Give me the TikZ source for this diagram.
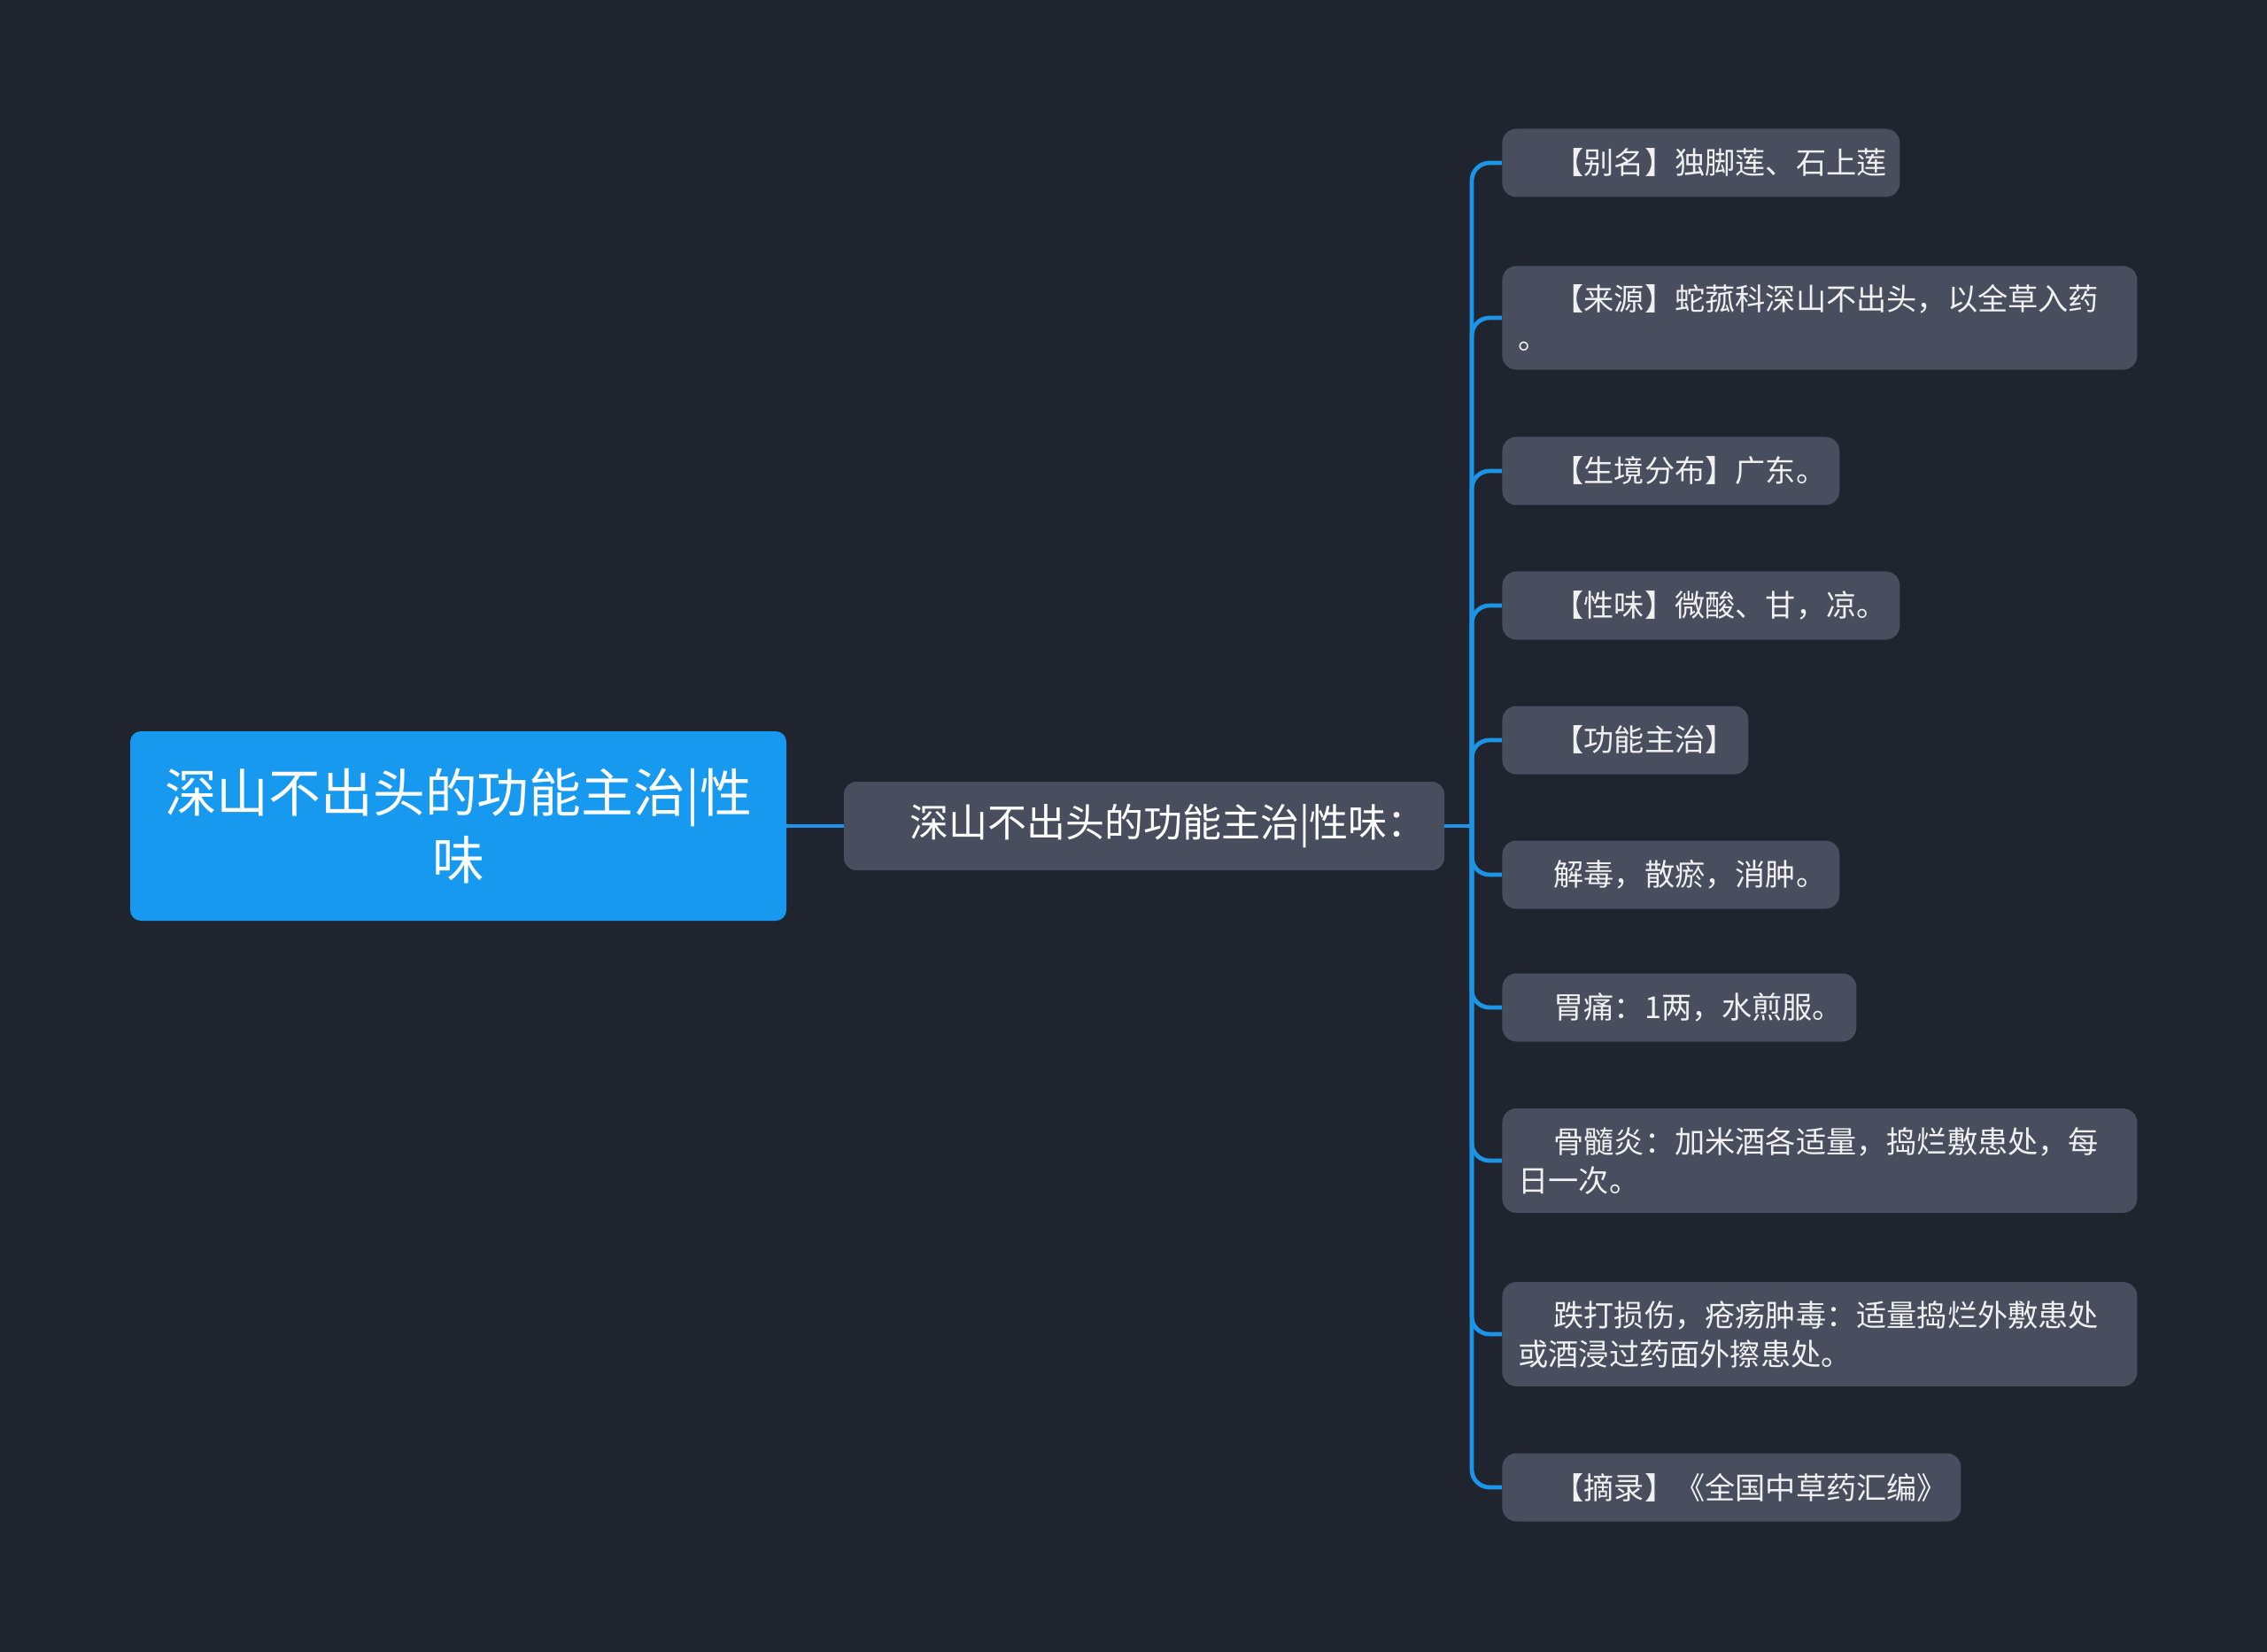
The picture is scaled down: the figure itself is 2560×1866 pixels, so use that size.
\documentclass[tikz,border=0pt]{standalone}
\usepackage{fontspec}
\setmainfont{Noto Sans CJK SC}
\usetikzlibrary{positioning}
\definecolor{bgdark}{HTML}{20242F}
\definecolor{boxgrey}{HTML}{484E5D}
\definecolor{rootblue}{HTML}{1899F0}
\definecolor{linkblue}{HTML}{1C94E8}
\begin{document}
\begin{tikzpicture}[x=0.5pt, y=-0.5pt,
    rootbox/.style={fill=rootblue, rounded corners=6pt, text=white, align=center,
        font=\fontsize{29.4}{38}\selectfont, text width=355pt,
        minimum width=370.5pt, minimum height=107pt, inner sep=0pt},
    midbox/.style={fill=boxgrey, rounded corners=7pt, text=white, align=left,
        font=\fontsize{22}{28}\selectfont, text width=302pt, inner xsep=18.5pt,
        minimum height=50pt},
    leafbox/.style={fill=boxgrey, rounded corners=8pt, text=white!94!black, align=left,
        font=\fontsize{17.1}{22}\selectfont, anchor=west, inner xsep=9pt, inner ysep=10.5pt,
        minimum height=38.5pt},
    link/.style={draw=linkblue, line width=2.4pt, rounded corners=10pt}]
    \fill[bgdark] (0,0) rectangle (2560,1866);
    \useasboundingbox (0,0) rectangle (2560,1866);
    \node[rootbox] (root) at (517.5,933) {深山不出头的功能主治|性\\味};
    \node[midbox] (mid) at (1292,933) {\hspace*{18.5pt}深山不出头的功能主治|性味：};
    \coordinate (trunk) at (1662,933);
    \draw[link] (root.east) -- (mid.west);
    \draw[link] (mid.east) -- (trunk);
    \foreach \leafname/\cy/\boxw/\leaftext in {
        alias/184/206.5pt/{\hspace*{20pt}【别名】独脚莲、石上莲},
        source/359/340.5pt/{\hspace*{20pt}【来源】蛇菰科深山不出头，以全草入药\\。},
        habitat/532/172.5pt/{\hspace*{20pt}【生境分布】广东。},
        taste/684/206.5pt/{\hspace*{20pt}【性味】微酸、甘，凉。},
        func/836/121pt/{\hspace*{20pt}【功能主治】},
        detox/988/172.5pt/{\hspace*{20pt}解毒，散瘀，消肿。},
        stomach/1138/182pt/{\hspace*{20pt}胃痛：1两，水煎服。},
        osteo/1311/340.5pt/{\hspace*{20pt}骨髓炎：加米酒各适量，捣烂敷患处，每\\日一次。},
        injury/1507/340.5pt/{\hspace*{20pt}跌打损伤，疮疡肿毒：适量捣烂外敷患处\\或酒浸过药面外擦患处。},
        excerpt/1680/241pt/{\hspace*{20pt}【摘录】《全国中草药汇编》}} {
        \node[leafbox, text width=\boxw] (\leafname) at (1696,\cy) {\leaftext};
        \draw[link] (trunk) |- (\leafname.west);
    }
\end{tikzpicture}
\end{document}
